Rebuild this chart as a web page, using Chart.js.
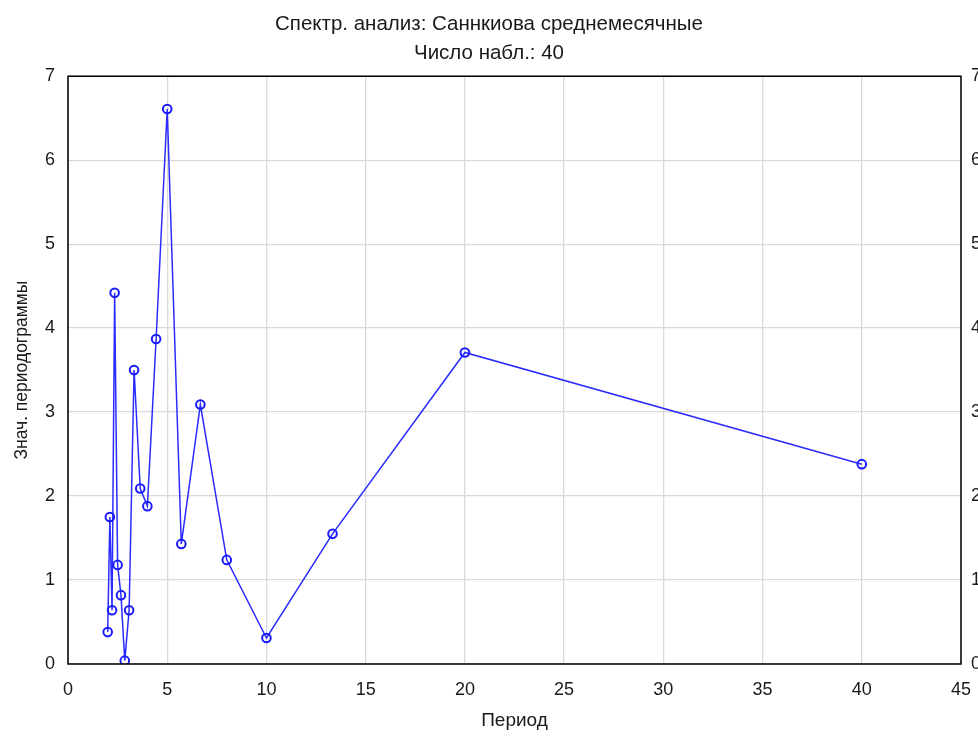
<!DOCTYPE html>
<html>
 <head>
  <meta charset="utf-8" />
  <title>Периодограмма</title>
  <style>
   body { margin: 0; background: #fff; overflow: hidden; }
  </style>
 </head>
 <body>
    <canvas id="specChart" width="978" height="736"></canvas>

    <script src="https://cdn.jsdelivr.net/npm/chart.js@4.4.1/dist/chart.umd.min.js"></script>
  <script>

// периоды (40/k) и значения периодограммы
const periods = [40, 20, 13.33, 10, 8, 6.67, 5.71, 5, 4.44, 4, 3.64, 3.33, 3.08, 2.86, 2.67, 2.5, 2.35, 2.22, 2.11, 2.0];
const values  = [2.38, 3.71, 1.55, 0.31, 1.24, 3.09, 1.43, 6.61, 3.87, 1.88, 2.09, 3.50, 0.64, 0.04, 0.82, 1.18, 4.42, 0.64, 1.75, 0.38];

const titleLines = ['Спектр. анализ: Саннкиова среднемесячные', 'Число набл.: 40'];
const xTitle = 'Период';
const yTitle = 'Знач. периодограммы';

const txt = '#1a1a1a';
const gridCol = '#d9d9d9';
const fam = 'Liberation Sans';

// рамка вокруг области графика
const frame = {
  id: 'frame',
  afterDraw(chart) {
    const a = chart.chartArea, c = chart.ctx;
    c.save();
    c.strokeStyle = '#000';
    c.lineWidth = 1.5;
    c.strokeRect(a.left, a.top, a.right - a.left, a.bottom - a.top);
    c.restore();
  }
};

const yTicks = {
  stepSize: 1,
  color: txt,
  font: { family: fam, size: 18 }
};

new Chart(document.getElementById('specChart'), {
  type: 'scatter',
  data: {
    datasets: [{
      data: periods.map((p, i) => ({ x: p, y: values[i] })),
      showLine: true,
      borderColor: '#2b2bff',
      borderWidth: 1.5,
      pointRadius: 4.3,
      pointBorderWidth: 2,
      pointBorderColor: '#1a1aff',
      pointBackgroundColor: 'rgba(255,255,255,0)'
    }]
  },
  options: {
    responsive: false,
    animation: false,
    layout: { padding: 0 },
    plugins: {
      legend: { display: false },
      tooltip: { enabled: false },
      title: {
        display: true,
        text: titleLines,
        color: txt,
        font: { family: fam, size: 20.5, weight: 'normal', lineHeight: 1.42 },
        padding: { top: 10, bottom: 8 }
      }
    },
    scales: {
      x: {
        type: 'linear',
        min: 0, max: 45,
        afterFit: s => { s.height = 72; s.paddingLeft = 0; s.paddingRight = 0; },
        grid: { color: gridCol, lineWidth: 1.3, drawTicks: false },
        border: { display: false },
        ticks: {
          stepSize: 5, padding: 15, color: txt,
          font: { family: fam, size: 18 }
        },
        title: {
          display: true, text: xTitle, color: txt,
          font: { family: fam, size: 19 },
          padding: { top: 10 }
        }
      },
      y: {
        position: 'left',
        min: 0, max: 7,
        afterFit: s => { s.width = 68; },
        grid: { color: gridCol, lineWidth: 1.3, drawTicks: false },
        border: { display: false },
        ticks: Object.assign({ padding: 13 }, yTicks),
        title: {
          display: true, text: yTitle, color: txt,
          font: { family: fam, size: 17.5 },
          padding: { top: 12, bottom: 4 }
        }
      },
      y2: {
        position: 'right',
        min: 0, max: 7,
        afterFit: s => { s.width = 17; },
        grid: { drawOnChartArea: false, drawTicks: false },
        border: { display: false },
        ticks: Object.assign({ padding: 10 }, yTicks)
      }
    }
  },
  plugins: [frame]
});

  </script>
</body>
</html>
